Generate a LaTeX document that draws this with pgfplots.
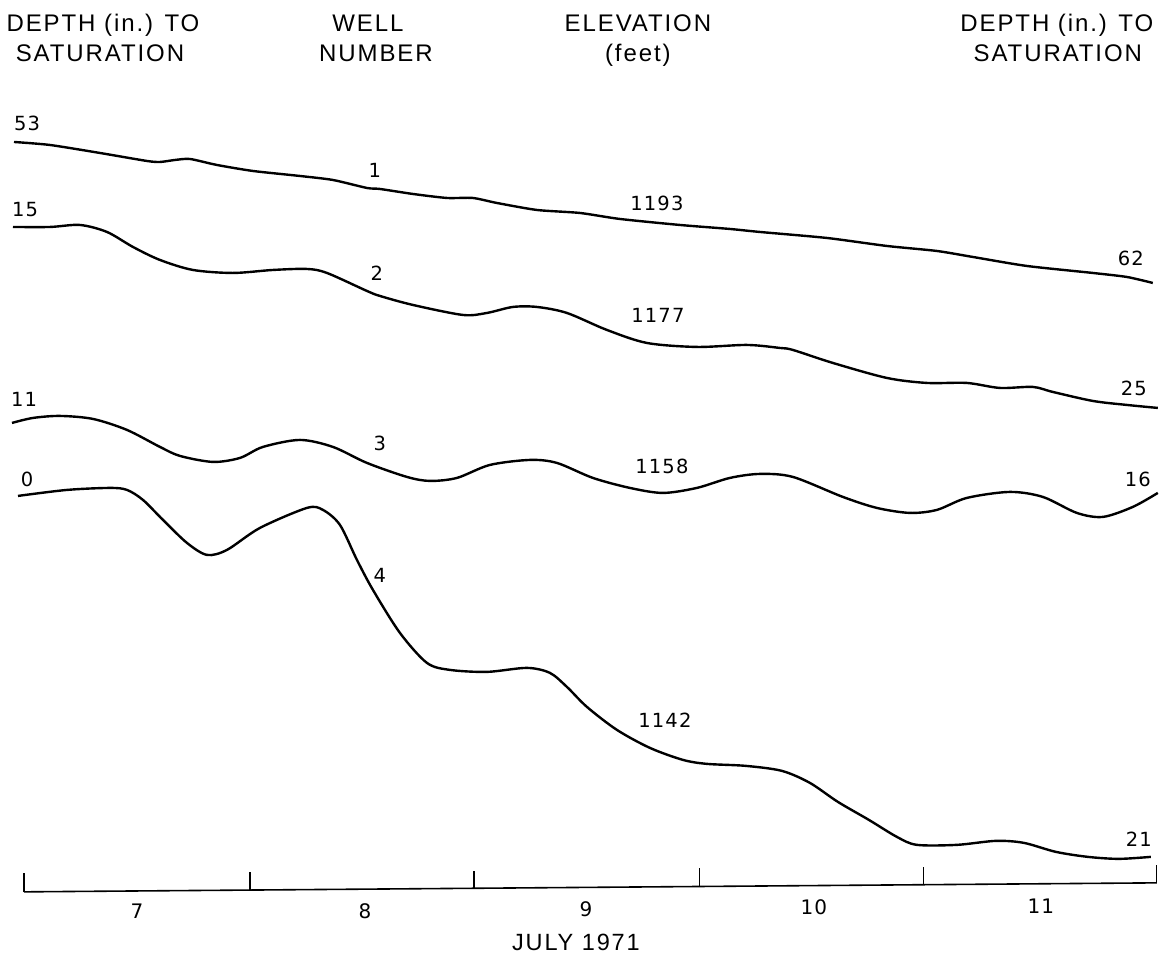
\documentclass[border=0pt]{standalone}
\usepackage{fontspec}
\setmainfont{Liberation Sans}
\newfontfamily\hdr[LetterSpace=8]{Liberation Sans}
\newfontfamily\num[LetterSpace=6]{DejaVu Sans}
\usepackage{pgfplots}
\pgfplotsset{compat=1.18}
\begin{document}
\begin{tikzpicture}
\begin{axis}[width=1159pt,height=961pt,scale only axis,
  xmin=0,xmax=1159,ymin=0,ymax=961,y dir=reverse,hide axis,clip=false,
  unbounded coords=jump]
\path (axis cs:0,0) rectangle (axis cs:1159,961);
% well 1
\addplot[black,line width=2.4pt,smooth,tension=0.4] coordinates {
(14,142)(50,145)(100,153)(147,161)(160,162)(175,160)(190,159)(217,165)(253,171)(300,176)(333,180)(367,188)(380,189)(413,194)(447,198)(473,198)(497,203)(537,210)(580,213)(620,219)(680,225)(730,229)(760,232)(827,238)(887,246)(937,251)(973,257)(1027,266)(1093,273)(1127,277)(1153,283)};
% well 2
\addplot[black,line width=2.4pt,smooth,tension=0.5] coordinates {
(13,227)(50,227)(80,225)(107,232)(133,247)(160,260)(193,270)(233,273)(273,270)(307,269)(327,273)(367,291)(380,296)(413,305)(463,315)(487,313)(513,307)(537,307)(567,313)(607,330)(647,343)(697,347)(747,345)(780,348)(793,350)(833,363)(887,378)(927,383)(967,383)(1000,388)(1033,387)(1053,392)(1093,401)(1127,405)(1158,408)};
% well 3
\addplot[black,line width=2.4pt,smooth,tension=0.5] coordinates {
(12,423)(33,418)(60,416)(93,419)(127,430)(160,447)(180,456)(213,462)(240,458)(263,447)(300,440)(333,447)(367,463)(407,477)(430,481)(457,478)(490,465)(530,460)(557,463)(593,478)(630,488)(663,493)(697,488)(730,478)(760,474)(793,477)(843,497)(877,508)(910,513)(937,510)(967,498)(1010,492)(1043,497)(1077,513)(1103,517)(1133,507)(1158,493)};
% well 4
\addplot[black,line width=2.4pt,smooth,tension=0.5] coordinates {
(18,496)(67,490)(110,488)(127,490)(143,500)(163,520)(187,543)(207,555)(227,550)(260,528)(307,508)(323,510)(340,525)(357,560)(373,590)(400,633)(427,663)(450,670)(487,672)(527,668)(550,673)(567,687)(587,707)(617,730)(650,748)(683,760)(707,764)(746,766)(782,771)(810,783)(838,802)(869,820)(897,837)(917,845)(957,845)(996,841)(1024,843)(1056,852)(1088,857)(1119,859)(1151,857)};
% time axis
\addplot[black,line width=1.6pt] coordinates {(24,892)(1157,883)};
\addplot[black,line width=1.2pt] coordinates {
(24,892)(24,873)(24,nan)
(250,890.2)(250,872)(250,nan)
(474,888.4)(474,871)(474,nan)
(700,886.6)(700,868)(700,nan)
(924,884.9)(924,867)(924,nan)
(1157,883)(1157,865)};
% headers
\node[anchor=base,font=\hdr\fontsize{24}{28}\selectfont] at (axis cs:103,32) {DEPTH (in.) TO};
\node[anchor=base,font=\hdr\fontsize{24}{28}\selectfont] at (axis cs:100,62) {SATURATION};
\node[anchor=base,font=\hdr\fontsize{24}{28}\selectfont] at (axis cs:368,32) {WELL};
\node[anchor=base,font=\hdr\fontsize{24}{28}\selectfont] at (axis cs:376,62) {NUMBER};
\node[anchor=base,font=\hdr\fontsize{24}{28}\selectfont] at (axis cs:638,32) {ELEVATION};
\node[anchor=base,font=\hdr\fontsize{24}{28}\selectfont] at (axis cs:638,62) {(feet)};
\node[anchor=base,font=\hdr\fontsize{24}{28}\selectfont] at (axis cs:1057,32) {DEPTH (in.) TO};
\node[anchor=base,font=\hdr\fontsize{24}{28}\selectfont] at (axis cs:1058,62) {SATURATION};
% curve labels
\begin{scope}[every node/.style={font=\num\fontsize{19.5}{24}\selectfont,inner sep=0pt}]
\node at (axis cs:27,123) {53};
\node at (axis cs:25,210) {15};
\node at (axis cs:24,399) {11};
\node at (axis cs:27,479) {0};
\node at (axis cs:1131,258) {62};
\node at (axis cs:1134,388) {25};
\node at (axis cs:1138,479) {16};
\node at (axis cs:1139,839) {21};
\node at (axis cs:375,170) {1};
\node at (axis cs:657,203) {1193};
\node at (axis cs:377,273) {2};
\node at (axis cs:658,315) {1177};
\node at (axis cs:380,443) {3};
\node at (axis cs:662,466) {1158};
\node at (axis cs:380,575) {4};
\node at (axis cs:665,720) {1142};
\end{scope}
% day labels
\begin{scope}[every node/.style={font=\num\fontsize{20}{24}\selectfont,inner sep=0pt}]
\node at (axis cs:137,911) {7};
\node at (axis cs:365,911) {8};
\node at (axis cs:586,909) {9};
\node at (axis cs:814,907) {10};
\node at (axis cs:1041,906) {11};
\end{scope}
\node[font=\hdr\fontsize{23.5}{27}\selectfont,inner sep=0pt] at (axis cs:576,943) {JULY 1971};
\end{axis}
\end{tikzpicture}
\end{document}
